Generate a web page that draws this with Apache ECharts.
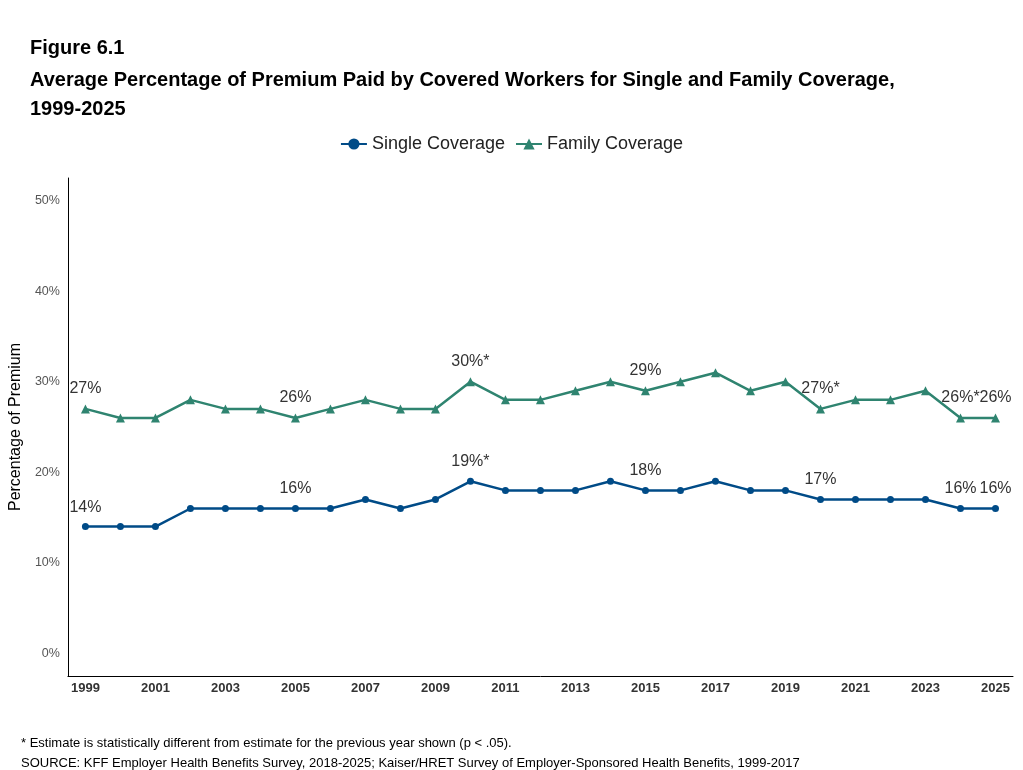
<!DOCTYPE html>
<html>
<head>
<meta charset="utf-8">
<script src="https://cdn.jsdelivr.net/npm/echarts@6/dist/echarts.min.js"></script>
<style>
  html, body { margin: 0; padding: 0; background: #fff; }
  #chart { width: 1023px; height: 770px; }
</style>
</head>
<body>
<div id="chart"></div>
<script>
const years = ['1999','2000','2001','2002','2003','2004','2005','2006','2007','2008','2009','2010','2011','2012',
  '2013','2014','2015','2016','2017','2018','2019','2020','2021','2022','2023','2024','2025'];
const singleValues = [14,14,14,16,16,16,16,16,17,16,17,19,18,18,18,19,18,18,19,18,18,17,17,17,17,16,16];
const familyValues = [27,26,26,28,27,27,26,27,28,27,27,30,28,28,29,30,29,30,31,29,30,27,28,28,29,26,26];
// labels shown on selected points
const singleLabels = { '1999': '14%', '2005': '16%', '2010': '19%*', '2015': '18%', '2020': '17%', '2024': '16%', '2025': '16%' };
const familyLabels = { '1999': '27%', '2005': '26%', '2010': '30%*', '2015': '29%', '2020': '27%*', '2024': '26%*', '2025': '26%' };

function withLabels(values, labels) {
    return values.map((v, i) => {
        const txt = labels[years[i]];
        return txt ? { value: v, label: { show: true, formatter: txt } } : v;
    });
}

const font = 'Arial, "Liberation Sans", sans-serif';
const chart = echarts.init(document.getElementById('chart'));

const labelStyle = { position: 'top', distance: 8, color: '#333', fontSize: 16, fontFamily: font };

chart.setOption({
    animation: false,
    textStyle: { fontFamily: font },
    title: [
        { text: 'Figure 6.1', left: 25, top: 33, textStyle: { fontSize: 20, fontWeight: 'bold', color: '#000' } },
        { text: 'Average Percentage of Premium Paid by Covered Workers for Single and Family Coverage,\n1999-2025',
          left: 25, top: 61, textStyle: { fontSize: 20, fontWeight: 'bold', color: '#000', lineHeight: 29 } },
        { text: '* Estimate is statistically different from estimate for the previous year shown (p < .05).\nSOURCE: KFF Employer Health Benefits Survey, 2018-2025; Kaiser/HRET Survey of Employer-Sponsored Health Benefits, 1999-2017',
          left: 16, top: 728, textStyle: { fontSize: 13, fontWeight: 'normal', color: '#000', lineHeight: 20 } }
    ],
    legend: {
        top: 130, left: 'center', itemGap: 10, itemWidth: 26,
        textStyle: { fontSize: 18, color: '#222' },
        data: ['Single Coverage', 'Family Coverage']
    },
    grid: { left: 63, right: 10, top: 178, bottom: 94, containLabel: false },
    xAxis: {
        type: 'category', data: years, boundaryGap: true,
        axisLine: { onZero: false, lineStyle: { color: '#000', width: 1 } },
        axisTick: { alignWithLabel: true, interval: 1, length: 4, lineStyle: { color: '#333' } },
        axisLabel: { interval: 1, fontSize: 13, fontWeight: 'bold', color: '#333', margin: 6 }
    },
    yAxis: {
        type: 'value', min: -2.5, max: 52.5, interval: 2.5,
        name: 'Percentage of Premium', nameLocation: 'middle', nameGap: 42,
        nameTextStyle: { fontSize: 16, color: '#000' },
        axisLine: { show: true, lineStyle: { color: '#000' } },
        axisTick: { show: false },
        splitLine: { show: false },
        axisLabel: {
            fontSize: 12.5, color: '#555', margin: 8,
            formatter: v => (v >= 0 && v % 10 === 0) ? v + '%' : ''
        }
    },
    series: [
        {
            name: 'Single Coverage', type: 'line', data: withLabels(singleValues, singleLabels),
            symbol: 'circle', symbolSize: 7,
            lineStyle: { width: 2.5, color: '#004b87' }, itemStyle: { color: '#004b87' },
            label: Object.assign({ show: false }, labelStyle)
        },
        {
            name: 'Family Coverage', type: 'line', data: withLabels(familyValues, familyLabels),
            symbol: 'triangle', symbolSize: 9,
            lineStyle: { width: 2.5, color: '#2f8470' }, itemStyle: { color: '#2f8470' },
            label: Object.assign({ show: false }, labelStyle)
        }
    ]
});
</script>
</body>
</html>
